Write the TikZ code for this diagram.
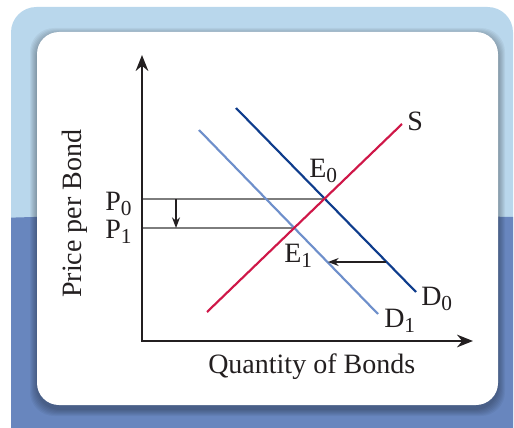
\documentclass[tikz,border=0pt]{standalone}
\usepackage{fontspec}
\setmainfont{Liberation Serif}
\usepackage{tikz}
\usetikzlibrary{
  arrows.meta,
  calc
}
\definecolor{BondSky}{HTML}{B9D7EC}
\definecolor{BondDeep}{HTML}{6886BE}
\definecolor{BondNavy}{HTML}{0E3C8C}
\definecolor{BondPale}{HTML}{6E8FCB}
\definecolor{BondRed}{HTML}{CF1748}
\definecolor{BondInk}{HTML}{231F20}
\definecolor{BondGrey}{HTML}{7D7D7D}
\newcommand{\lowidx}[1]{\raisebox{-0.4ex}{\fontsize{16}{16}\selectfont #1}}

\begin{document}
\begin{tikzpicture}[
  x=0.75pt,y=-0.75pt,
  every node/.style={font=\fontsize{21}{23}\selectfont,text=BondInk,inner sep=0pt},
  axis/.style={draw=BondInk,line width=1.1pt,
    {Stealth[length=12pt,width=9.5pt]}-{Stealth[length=12pt,width=9.5pt]}},
  level/.style={draw=BondGrey,line width=1.1pt},
  curve/.style={line width=1.6pt},
  move/.style={draw=BondInk,line width=0.9pt,-{Stealth[length=8pt,width=6pt]}}
]
\useasboundingbox (0,0) rectangle (514,428);
\begin{scope}
  \clip[rounded corners=19pt] (11,7) rectangle (513,470);
  \fill[BondSky] (0,0) rectangle (514,428);
  \fill[BondDeep] (0,218) .. controls (150,213) and (350,214) .. (514,217)
    -- (514,428) -- (0,428) -- cycle;
  \foreach \k in {1,...,7}
    \fill[black,opacity=0.045,rounded corners=18pt]
      (37-\k,35-\k) rectangle (498+\k,409+\k);
\end{scope}
\fill[white,rounded corners=16.5pt] (37,32) rectangle (498,405);

\coordinate (origin) at (142,341);
\coordinate (ytop) at (142,55);
\coordinate (xend) at (473,341);
\coordinate (s-lo) at (207,312);
\coordinate (s-hi) at (402,124);
\coordinate (d0-hi) at (236,108);
\coordinate (d0-lo) at (416,292);
\coordinate (d1-hi) at (199,130);
\coordinate (d1-lo) at (378,314);
\coordinate (e0) at (324,199);
\coordinate (e1) at (293,228);
\coordinate (p0) at (142,199);
\coordinate (p1) at (142,228);
\coordinate (drop-from) at (176,199);
\coordinate (drop-to) at (176,228);
\coordinate (shift-from) at (386,262);
\coordinate (shift-to) at (328,262);

\draw[level] (p0) -- (e0);
\draw[level] (p1) -- (e1);
\draw[axis] (ytop) -- (origin) -- (xend);
\draw[curve,BondPale] (d1-hi) -- (d1-lo);
\draw[curve,BondNavy] (d0-hi) -- (d0-lo);
\draw[curve,BondRed] (s-lo) -- (s-hi);
\draw[move] (drop-from) -- (drop-to);
\draw[move] (shift-from) -- (shift-to);

\node[anchor=base west] (p0-label) at (105,210) {P\lowidx{0}};
\node[anchor=base west] (p1-label) at (105,238) {P\lowidx{1}};
\node[anchor=base west] (e0-label) at (309,177) {E\lowidx{0}};
\node[anchor=base west] (e1-label) at (284,262) {E\lowidx{1}};
\node[anchor=base west] (s-label) at (407,130) {S};
\node[anchor=base west] (d0-label) at (421,305) {D\lowidx{0}};
\node[anchor=base west] (d1-label) at (384,327) {D\lowidx{1}};
\node[anchor=base west] (q-label) at (208,373) {Quantity of Bonds};
\node[anchor=base west,rotate=90] (p-label) at (81,298) {Price per Bond};
\end{tikzpicture}
\end{document}
